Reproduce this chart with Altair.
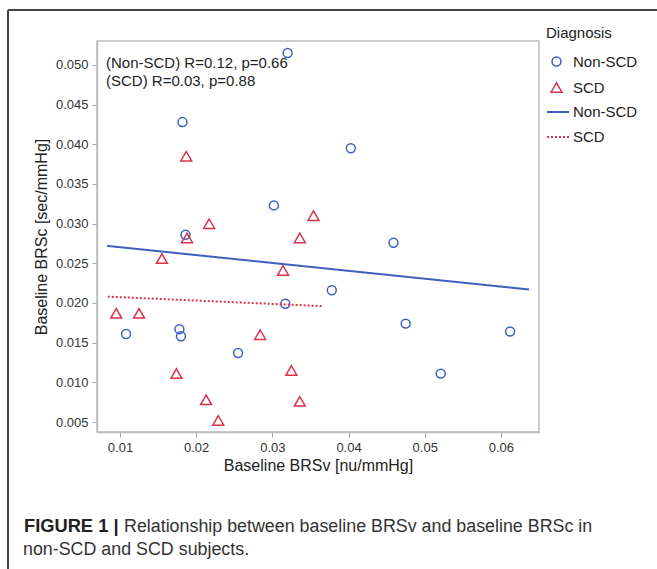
import altair as alt
import pandas as pd

# ---- data ----
nonscd_x = [0.0320, 0.0182, 0.0403, 0.0302, 0.0186, 0.0459, 0.0378, 0.0317,
            0.0475, 0.0612, 0.0108, 0.0178, 0.0180, 0.0255, 0.0521]
nonscd_y = [0.0515, 0.0428, 0.0395, 0.0323, 0.0286, 0.0276, 0.0216, 0.0199,
            0.0174, 0.0164, 0.0161, 0.0167, 0.0158, 0.0137, 0.0111]
scd_x = [0.0187, 0.0217, 0.0354, 0.0188, 0.0336, 0.0155, 0.0314, 0.0095,
         0.0125, 0.0284, 0.0174, 0.0325, 0.0213, 0.0336, 0.0229]
scd_y = [0.0385, 0.0300, 0.0310, 0.0282, 0.0282, 0.0256, 0.0241, 0.0187,
         0.0187, 0.0160, 0.0111, 0.0115, 0.0078, 0.0076, 0.0052]

fit_nonscd_x = [0.0083, 0.0637]
fit_nonscd_y = [0.0272, 0.0217]
fit_scd_x = [0.0084, 0.0367]
fit_scd_y = [0.0208, 0.0196]

groups = ["Non-SCD", "SCD"]
x_ticks = [0.01, 0.02, 0.03, 0.04, 0.05, 0.06]
y_ticks = [0.005, 0.010, 0.015, 0.020, 0.025, 0.030, 0.035, 0.040, 0.045, 0.050]
annotation = ["(Non-SCD) R=0.12, p=0.66", "(SCD) R=0.03, p=0.88"]
caption_bold = "FIGURE 1 |"
caption_line1 = "Relationship between baseline BRSv and baseline BRSc in"
caption_line2 = "non-SCD and SCD subjects."

BLUE = "#3f5fbf"
RED = "#d8334a"
FONT = "Liberation Sans"

points = pd.DataFrame({
    "BRSv": nonscd_x + scd_x,
    "BRSc": nonscd_y + scd_y,
    "Diagnosis": ["Non-SCD"] * len(nonscd_x) + ["SCD"] * len(scd_x),
})
fits = pd.DataFrame({
    "BRSv": fit_nonscd_x + fit_scd_x,
    "BRSc": fit_nonscd_y + fit_scd_y,
    "Diagnosis": ["Non-SCD"] * 2 + ["SCD"] * 2,
})

xscale = alt.Scale(domain=[0.00698, 0.065], nice=False, zero=False)
yscale = alt.Scale(domain=[0.00374, 0.05302], nice=False, zero=False)

xenc = alt.X("BRSv:Q", scale=xscale,
             axis=alt.Axis(values=x_ticks, format=".2f", title="Baseline BRSv [nu/mmHg]"))
yenc = alt.Y("BRSc:Q", scale=yscale,
             axis=alt.Axis(values=y_ticks, format=".3f", title="Baseline BRSc [sec/mmHg]"))

pt_legend = alt.Legend(title="Diagnosis", orient="none", legendX=449, legendY=-15,
                       symbolSize=70, symbolStrokeWidth=1.5, symbolOffset=3,
                       labelOffset=9, rowPadding=9, titlePadding=13, padding=0)

pts = alt.Chart(points).mark_point(filled=False, strokeWidth=1.5, opacity=1).encode(
    x=xenc, y=yenc,
    color=alt.Color("Diagnosis:N", scale=alt.Scale(domain=groups, range=[BLUE, RED]),
                    legend=pt_legend),
    shape=alt.Shape("Diagnosis:N", scale=alt.Scale(domain=groups, range=["circle", "triangle-up"]),
                    legend=pt_legend),
    size=alt.Size("Diagnosis:N", scale=alt.Scale(domain=groups, range=[80, 120]), legend=None),
)

ln_legend = alt.Legend(title=None, orient="none", legendX=449, legendY=59,
                       symbolType="stroke", symbolSize=484, symbolStrokeWidth=2,
                       labelOffset=3, rowPadding=5, padding=0)

lines = alt.Chart(fits).mark_line(strokeWidth=2).encode(
    x=xenc, y=yenc,
    color=alt.Color("Diagnosis:N", scale=alt.Scale(domain=groups, range=[BLUE, RED]),
                    legend=ln_legend),
    strokeDash=alt.StrokeDash("Diagnosis:N", scale=alt.Scale(domain=groups, range=[[1, 0], [2, 2]]),
                              legend=ln_legend),
)

ann = alt.Chart(pd.DataFrame({"t": ["\n".join(annotation)]})).mark_text(
    align="left", baseline="middle", fontSize=15, font=FONT, color="#222",
    lineBreak="\n", lineHeight=18,
).encode(x=alt.value(9), y=alt.value(22), text="t:N")

cap1b = alt.Chart(pd.DataFrame({"t": [caption_bold]})).mark_text(
    align="left", baseline="middle", fontSize=18.3, font=FONT, fontWeight="bold", color="#222",
).encode(x=alt.value(-73), y=alt.value(486), text="t:N")
cap1 = alt.Chart(pd.DataFrame({"t": [caption_line1]})).mark_text(
    align="left", baseline="middle", fontSize=17.85, font=FONT, color="#333",
).encode(x=alt.value(27), y=alt.value(486), text="t:N")
cap2 = alt.Chart(pd.DataFrame({"t": [caption_line2]})).mark_text(
    align="left", baseline="middle", fontSize=17.85, font=FONT, color="#333",
).encode(x=alt.value(-74), y=alt.value(509), text="t:N")

frame_df = pd.DataFrame({"k": [0]})
frame_left = alt.Chart(frame_df).mark_rule(color="#444", strokeWidth=2).encode(
    x=alt.value(-89), y=alt.value(-31), y2=alt.value(600))
frame_top = alt.Chart(frame_df).mark_rule(color="#444", strokeWidth=2).encode(
    x=alt.value(-89), x2=alt.value(700), y=alt.value(-31))

chart = alt.layer(pts, lines, ann, cap1b, cap1, cap2, frame_left, frame_top).resolve_scale(
    color="independent", shape="independent", strokeDash="independent", size="independent"
).resolve_legend(
    color="independent", shape="independent", strokeDash="independent"
).properties(
    width=442, height=391,
    autosize=alt.AutoSizeParams(type="none"),
    padding={"left": 97, "top": 41, "right": 118, "bottom": 137},
).configure(
    font=FONT, background="white"
).configure_view(
    stroke="#bdbdbd", strokeWidth=1.5
).configure_axis(
    grid=False, domainColor="#bdbdbd", domainWidth=1.5, tickColor="#a8a8a8", tickSize=5,
    labelFont=FONT, labelFontSize=13, labelColor="#333",
    titleFont=FONT, titleFontSize=16, titleFontWeight="normal", titleColor="#222",
).configure_axisX(
    labelPadding=4, titlePadding=3
).configure_axisY(
    labelPadding=4, titlePadding=6
).configure_legend(
    labelFont=FONT, labelFontSize=15, labelColor="#222",
    titleFont=FONT, titleFontSize=15, titleFontWeight="normal", titleColor="#222",
)

chart.save("out.html", embed_options={"renderer": "svg", "actions": False})
